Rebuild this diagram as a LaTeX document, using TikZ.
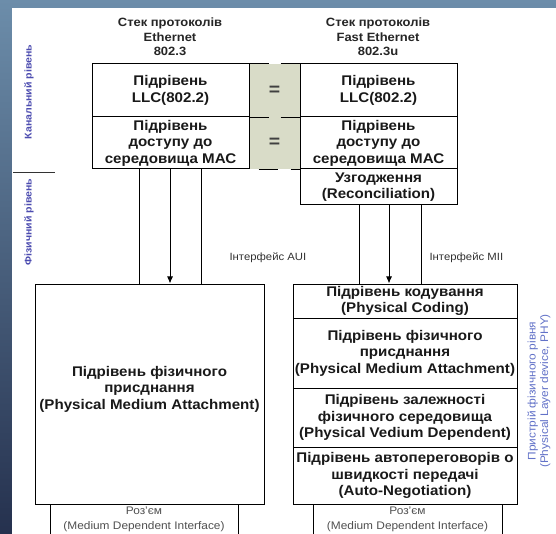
\documentclass[tikz,border=0pt]{standalone}
\usepackage{fontspec}
\setmainfont{Liberation Sans}[FakeStretch=1.08]
\usetikzlibrary{arrows.meta}
\definecolor{eqfill}{HTML}{D9DCC8}
\definecolor{bgtop}{HTML}{6C8DAA}
\definecolor{bgbot}{HTML}{25314E}
\definecolor{lvl}{HTML}{4C4CB0}
\definecolor{phy}{HTML}{6272C8}
\definecolor{conn}{HTML}{505050}
\tikzset{
  box/.style={draw=black, line width=1pt, inner sep=0pt, align=center,
    font=\fontsize{14}{16.5}\selectfont\bfseries, text=black!90},
  title/.style={align=center, font=\fontsize{12}{14.5}\selectfont\bfseries, text=black!85},
  iflabel/.style={anchor=west, font=\fontsize{10.5}{12}\selectfont, text=black!80},
  conntext/.style={align=center, font=\fontsize{11}{15}\selectfont, text=conn},
  eqsign/.style={font=\fontsize{18}{18}\selectfont\bfseries, text=black!75},
  wire/.style={line width=1pt},
  arrowwire/.style={line width=1pt, -{Latex[length=7pt,width=6pt]}},
  dashtop/.style={line width=1pt, dash pattern=on 19pt off 12pt},
  dashbot/.style={line width=1pt, dash pattern=on 19pt off 13pt, dash phase=23pt},
  lvllabel/.style={rotate=90, font=\fontsize{9.8}{12}\selectfont\bfseries, text=lvl},
  phylabel/.style={rotate=90, align=center, font=\fontsize{11}{12.5}\selectfont, text=phy}
}
\begin{document}
\begin{tikzpicture}[x=1pt,y=-1pt]
\clip (0,0) rectangle (556,534);
% background
\shade[top color=bgtop, bottom color=bgbot] (0,0) rectangle (556,534);
\fill[white] (12,8) rectangle (556,534);

% titles
\node[title] (t1) at (170,37) {Стек протоколів\\Ethernet\\802.3};
\node[title] (t2) at (378,37) {Стек протоколів\\Fast Ethernet\\802.3u};

% equality column
\fill[eqfill] (249,64) rectangle (300,169);
\node[eqsign] (eq1) at (274.5,91) {=};
\node[eqsign] (eq2) at (274.5,143) {=};

% left stack (Ethernet)
\node[box, minimum width=157pt, minimum height=53pt] (llcL) at (170.5,90.5) {Підрівень\\LLC(802.2)};
\node[box, minimum width=157pt, minimum height=52pt] (macL) at (170.5,143) {Підрівень\\доступу до\\середовища МАС};

% right stack (Fast Ethernet)
\node[box, minimum width=157pt, minimum height=53pt] (llcR) at (378.5,90.5) {Підрівень\\LLC(802.2)};
\node[box, minimum width=157pt, minimum height=52pt] (macR) at (378.5,143) {Підрівень\\доступу до\\середовища МАС};
\node[box, minimum width=157pt, minimum height=36pt] (recR) at (378.5,187) {Узгодження\\(Reconciliation)};

% dashed edges across equality column
\draw[dashtop] (llcL.north east) -- (llcR.north west);
\draw[dashtop] (llcL.south east) -- (llcR.south west);
\draw[dashbot] (macL.south east) -- (macR.south west);

% left physical block
\node[box, minimum width=229pt, minimum height=220pt] (pmaL) at (149.5,394) {};
\node[align=center, font=\fontsize{14}{16.5}\selectfont\bfseries, text=black!90] (pmaLtext) at (149.5,389)
  {Підрівень фізичного\\присднання\\(Physical Medium Attachment)};
\node[draw=black, line width=1pt, minimum width=188pt, minimum height=40pt, inner sep=0pt] (mdiL) at (144,524) {};
\node[conntext] (mdiLtext) at (144,519) {Роз’єм\\(Medium Dependent Interface)};

% right physical block (PHY)
\node[box, minimum width=224pt, minimum height=34pt] (pcs) at (405,301) {Підрівень кодування\\(Physical Coding)};
\node[box, minimum width=224pt, minimum height=70pt] (pma) at (405,353) {Підрівень фізичного\\присднання\\(Physical Medium Attachment)};
\node[box, minimum width=224pt, minimum height=59pt] (pmd) at (405,417.5) {Підрівень залежності\\фізичного середовища\\(Physical Vedium Dependent)};
\node[box, minimum width=224pt, minimum height=57pt] (an) at (405,475.5) {Підрівень автопереговорів о\\швидкості передачі\\(Auto-Negotiation)};
\node[draw=black, line width=1pt, minimum width=189pt, minimum height=40pt, inner sep=0pt] (mdiR) at (407.5,524) {};
\node[conntext] (mdiRtext) at (407.5,519) {Роз’єм\\(Medium Dependent Interface)};

% interfaces
\draw[wire] (139,0 |- macL.south) -- (139,0 |- pmaL.north);
\draw[arrowwire] (170,0 |- macL.south) -- (170,0 |- pmaL.north);
\draw[wire] (201,0 |- macL.south) -- (201,0 |- pmaL.north);
\node[iflabel] (aui) at (226,258) {Інтерфейс AUI};

\draw[wire] (359,0 |- recR.south) -- (359,0 |- pcs.north);
\draw[arrowwire] (389,0 |- recR.south) -- (389,0 |- pcs.north);
\draw[wire] (421,0 |- recR.south) -- (421,0 |- pcs.north);
\node[iflabel] (mii) at (426,258) {Інтерфейс MII};

% level labels
\node[lvllabel] (chan) at (29,92) {Канальний рівень};
\coordinate (sepA) at (13,172);
\coordinate (sepB) at (55,172);
\draw[line width=0.9pt, black!80] (sepA) -- (sepB);
\node[lvllabel] (phys) at (29,222) {Фізичний рівень};
\node[phylabel] (phydev) at (539,391) {Пристрій фізичного рівня\\(Physical Layer device, PHY)};
\end{tikzpicture}
\end{document}
